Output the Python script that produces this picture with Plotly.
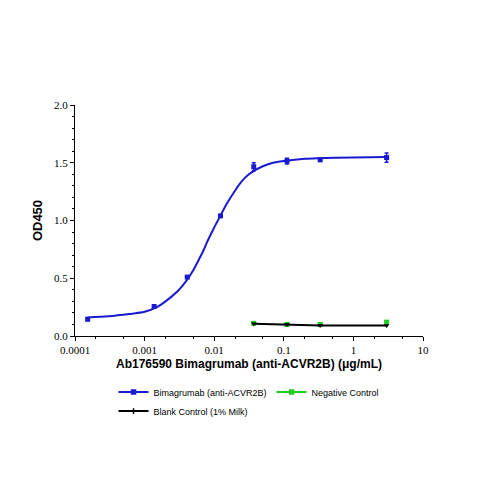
import plotly.graph_objects as go

# measured points
conc = [0.000152, 0.00137, 0.0041, 0.0123, 0.037, 0.111, 0.333, 3]
od_bima = [0.145, 0.255, 0.51, 1.04, 1.465, 1.515, 1.525, 1.545]
err_bima = [0.01, 0.015, 0.01, 0.01, 0.035, 0.025, 0.01, 0.04]

conc_ctrl = [0.037, 0.111, 0.333, 3]
od_neg = [0.11, 0.10, 0.10, 0.12]
od_blank = [0.105, 0.10, 0.09, 0.09]

# fitted curve
fit_x = [0.00015, 0.0003, 0.0006, 0.001, 0.0015, 0.002, 0.003, 0.004, 0.005, 0.006, 0.007,
         0.008, 0.01, 0.012, 0.015, 0.02, 0.025, 0.03, 0.04, 0.05, 0.07, 0.1, 0.2, 0.3, 1, 3]
fit_y = [0.16, 0.17, 0.19, 0.21, 0.25, 0.30, 0.39, 0.48, 0.57, 0.66, 0.74,
         0.82, 0.94, 1.03, 1.14, 1.26, 1.34, 1.39, 1.44, 1.47, 1.50, 1.515, 1.535, 1.54, 1.545, 1.55]

BLUE = '#1a1ad0'
GREEN = '#22cc22'

fig = go.Figure()
fig.add_trace(go.Scatter(x=fit_x, y=fit_y, mode='lines', line=dict(color=BLUE, width=2, shape='spline', smoothing=0.6),
                         showlegend=False, hoverinfo='skip'))
fig.add_trace(go.Scatter(x=conc, y=od_bima, mode='markers', showlegend=False,
                         marker=dict(color=BLUE, symbol='square', size=5),
                         error_y=dict(array=err_bima, color=BLUE, width=2, thickness=1.5)))
fig.add_trace(go.Scatter(x=conc_ctrl, y=od_neg, mode='markers', showlegend=False,
                         marker=dict(color=GREEN, symbol='square', size=5)))
fig.add_trace(go.Scatter(x=conc_ctrl, y=od_blank, mode='lines+markers', showlegend=False,
                         line=dict(color='black', width=2),
                         marker=dict(color='black', symbol='triangle-down', size=5)))

# legend entries
legend_items = [('Bimagrumab (anti-ACVR2B)', BLUE, 'square', 9),
                ('Negative Control', GREEN, 'square', 11),
                ('Blank Control (1% Milk)', 'black', 'cross-thin', 9)]
for name, col, sym, fs in legend_items:
    fig.add_trace(go.Scatter(x=[None], y=[None], mode='lines+markers', name=name,
                             line=dict(color=col, width=2),
                             marker=dict(color=col, symbol=sym, size=4, line=dict(color=col, width=1.5)),
                             legendgrouptitle=None))

axis_common = dict(showline=True, linecolor='black', linewidth=1, ticks='outside', ticklen=4,
                   tickcolor='black', showgrid=False, zeroline=False, automargin=False,
                   tickfont=dict(family='Liberation Serif', size=11, color='black'))
fig.update_xaxes(type='log', range=[-4, 1], tickvals=[0.0001, 0.001, 0.01, 0.1, 1, 10],
                 ticktext=['0.0001', '0.001', '0.01', '0.1', '1', '10'],
                 minor=dict(ticks='outside', ticklen=2, tickcolor='black', showgrid=False),
                 title=dict(text='<b>Ab176590 Bimagrumab (anti-ACVR2B) (μg/mL)</b>', standoff=4,
                            font=dict(family='Liberation Sans', size=12, color='black')),
                 **axis_common)
fig.update_yaxes(range=[0, 2.0], tickvals=[0, 0.5, 1.0, 1.5, 2.0], ticktext=['0.0', '0.5', '1.0', '1.5', '2.0'],
                 minor=dict(ticks='outside', ticklen=2, tickcolor='black', dtick=0.1),
                 title=dict(text='<b>OD450</b>', standoff=8,
                            font=dict(family='Liberation Sans', size=13, color='black')),
                 **axis_common)
fig.update_layout(width=479, height=479, margin=dict(l=67, r=64, t=97, b=151, autoexpand=False),
                  plot_bgcolor='white', paper_bgcolor='white',
                  legend=dict(orientation='h', x=0.5, xanchor='center', y=-0.18, yanchor='top',
                              font=dict(family='Liberation Sans', size=9, color='black'),
                              entrywidth=0, itemwidth=30, tracegroupgap=0))
fig.write_html("out.html")
